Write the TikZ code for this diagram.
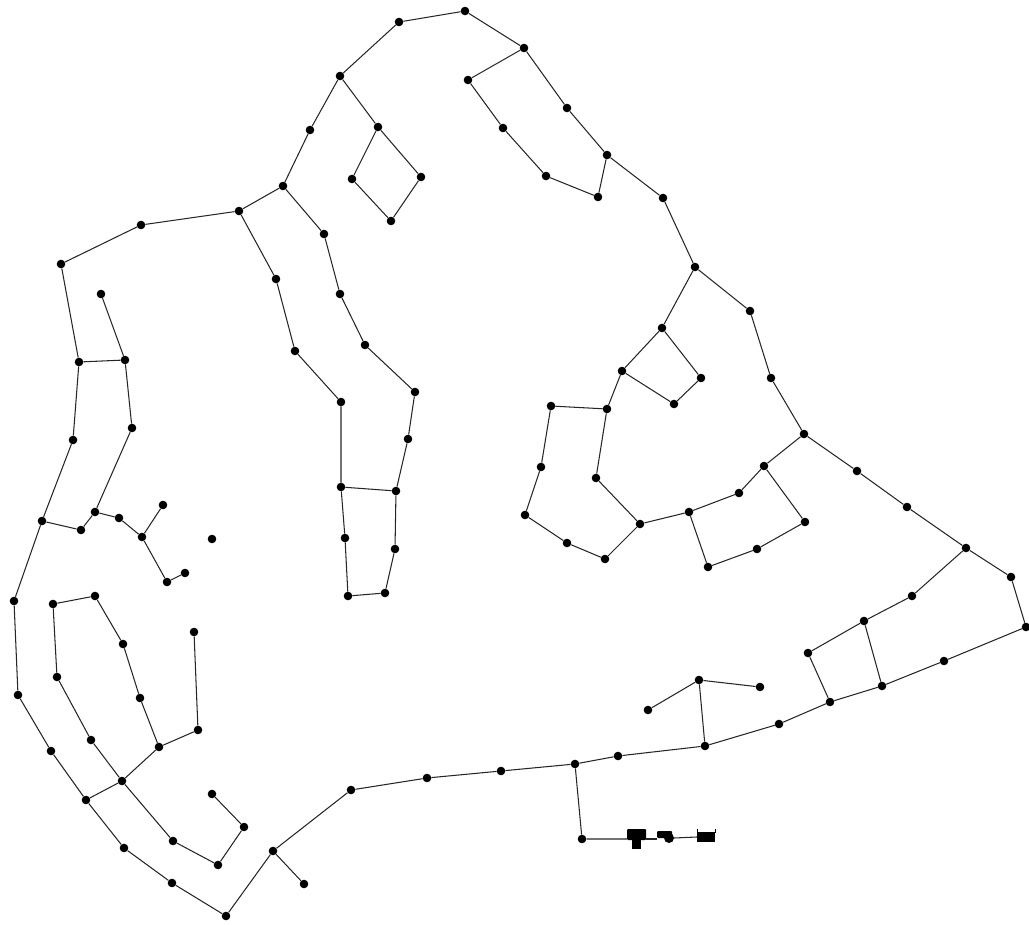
\documentclass[tikz,border=0pt]{standalone}
\tikzset{
  junc/.style={circle, fill=black, inner sep=0pt, minimum size=8.6pt},
  pipe/.style={black!85, line width=1.05pt},
  block/.style={fill=black, inner sep=0pt, rounded corners=1pt}
}
\begin{document}
\begin{tikzpicture}[x=1pt, y=-1pt]
\useasboundingbox (0,0) rectangle (1029,925);
\node[junc] (n1) at (465,11) {};
\node[junc] (n2) at (399,22) {};
\node[junc] (n3) at (340,76) {};
\node[junc] (n4) at (524,48) {};
\node[junc] (n5) at (468,80) {};
\node[junc] (n6) at (503,128) {};
\node[junc] (n7) at (546,176) {};
\node[junc] (n8) at (598,197) {};
\node[junc] (n9) at (607,155) {};
\node[junc] (n10) at (567,108) {};
\node[junc] (n11) at (663,198) {};
\node[junc] (n12) at (695,267) {};
\node[junc] (n13) at (750,311) {};
\node[junc] (n14) at (771,378) {};
\node[junc] (n15) at (804,434) {};
\node[junc] (n16) at (857,471) {};
\node[junc] (n17) at (907,507) {};
\node[junc] (n18) at (966,548) {};
\node[junc] (n19) at (1011,577) {};
\node[junc] (n20) at (1026,627) {};
\node[junc] (n21) at (944,661) {};
\node[junc] (n22) at (882,686) {};
\node[junc] (n23) at (830,702) {};
\node[junc] (n24) at (779,724) {};
\node[junc] (n25) at (705,746) {};
\node[junc] (n26) at (618,756) {};
\node[junc] (n27) at (575,764) {};
\node[junc] (n28) at (501,771) {};
\node[junc] (n29) at (427,778) {};
\node[junc] (n30) at (351,790) {};
\node[junc] (n31) at (273,851) {};
\node[junc] (n32) at (226,916) {};
\node[junc] (n33) at (172,883) {};
\node[junc] (n34) at (124,848) {};
\node[junc] (n35) at (86,800) {};
\node[junc] (n36) at (51,751) {};
\node[junc] (n37) at (18,695) {};
\node[junc] (n38) at (14,601) {};
\node[junc] (n39) at (42,521) {};
\node[junc] (n40) at (73,440) {};
\node[junc] (n41) at (79,362) {};
\node[junc] (n42) at (61,264) {};
\node[junc] (n43) at (141,225) {};
\node[junc] (n44) at (239,211) {};
\node[junc] (n45) at (283,186) {};
\node[junc] (n46) at (310,130) {};
\node[junc] (n47) at (378,127) {};
\node[junc] (n48) at (421,177) {};
\node[junc] (n49) at (391,221) {};
\node[junc] (n50) at (352,179) {};
\node[junc] (n51) at (324,234) {};
\node[junc] (n52) at (340,294) {};
\node[junc] (n53) at (365,345) {};
\node[junc] (n54) at (415,392) {};
\node[junc] (n55) at (408,439) {};
\node[junc] (n56) at (396,491) {};
\node[junc] (n57) at (395,549) {};
\node[junc] (n58) at (385,593) {};
\node[junc] (n59) at (348,596) {};
\node[junc] (n60) at (345,538) {};
\node[junc] (n61) at (341,487) {};
\node[junc] (n62) at (341,402) {};
\node[junc] (n63) at (295,351) {};
\node[junc] (n64) at (276,279) {};
\node[junc] (n65) at (125,360) {};
\node[junc] (n66) at (132,428) {};
\node[junc] (n67) at (95,512) {};
\node[junc] (n68) at (81,530) {};
\node[junc] (n69) at (101,294) {};
\node[junc] (n70) at (119,518) {};
\node[junc] (n71) at (142,537) {};
\node[junc] (n72) at (163,505) {};
\node[junc] (n73) at (167,582) {};
\node[junc] (n74) at (185,573) {};
\node[junc] (n75) at (212,539) {};
\node[junc] (n76) at (53,604) {};
\node[junc] (n77) at (95,596) {};
\node[junc] (n78) at (123,644) {};
\node[junc] (n79) at (140,698) {};
\node[junc] (n80) at (159,747) {};
\node[junc] (n81) at (198,730) {};
\node[junc] (n82) at (194,632) {};
\node[junc] (n83) at (57,677) {};
\node[junc] (n84) at (91,740) {};
\node[junc] (n85) at (122,781) {};
\node[junc] (n86) at (173,841) {};
\node[junc] (n87) at (218,865) {};
\node[junc] (n88) at (244,827) {};
\node[junc] (n89) at (212,794) {};
\node[junc] (n90) at (304,884) {};
\node[junc] (n91) at (582,839) {};
\node[junc] (n92) at (699,680) {};
\node[junc] (n93) at (648,710) {};
\node[junc] (n94) at (760,687) {};
\node[junc] (n95) at (912,596) {};
\node[junc] (n96) at (864,621) {};
\node[junc] (n97) at (808,653) {};
\node[junc] (n98) at (662,328) {};
\node[junc] (n99) at (622,371) {};
\node[junc] (n100) at (607,409) {};
\node[junc] (n101) at (596,478) {};
\node[junc] (n102) at (640,524) {};
\node[junc] (n103) at (605,559) {};
\node[junc] (n104) at (567,543) {};
\node[junc] (n105) at (525,515) {};
\node[junc] (n106) at (541,467) {};
\node[junc] (n107) at (551,406) {};
\node[junc] (n108) at (701,378) {};
\node[junc] (n109) at (674,404) {};
\node[junc] (n110) at (689,512) {};
\node[junc] (n111) at (739,493) {};
\node[junc] (n112) at (764,466) {};
\node[junc] (n113) at (805,522) {};
\node[junc] (n114) at (757,549) {};
\node[junc] (n115) at (708,567) {};
% valve, pump and tank at the end of the feed
\node[block, minimum width=19pt, minimum height=11pt] (valve) at (636.5,834.5) {};
\node[fill=black, inner sep=0pt, minimum width=9pt, minimum height=10pt] (stem) at (636.5,844) {};
\node[circle, fill=black, inner sep=0pt, minimum size=10pt] (pumpc) at (669,838) {};
\node[block, minimum width=15pt, minimum height=7pt] (pump) at (664.5,834.5) {};
\node[fill=black, inner sep=0pt, minimum width=18pt, minimum height=10pt] (tank) at (706,837) {};
\coordinate (tankl) at (697,829);
\coordinate (tankr) at (715,829);
\coordinate (tankbl) at (697,833);
\coordinate (tankbr) at (715,833);
% outer ring
\draw[pipe] (n3) -- (n2) -- (n1) -- (n4) -- (n5) -- (n6) -- (n7) -- (n8) -- (n9) -- (n10) -- (n4);
\draw[pipe] (n9) -- (n11) -- (n12) -- (n13) -- (n14) -- (n15) -- (n16) -- (n17) -- (n18) -- (n19) -- (n20) -- (n21) -- (n22) -- (n23) -- (n24) -- (n25) -- (n26) -- (n27) -- (n28) -- (n29) -- (n30) -- (n31) -- (n32) -- (n33) -- (n34) -- (n35) -- (n36) -- (n37) -- (n38) -- (n39) -- (n40) -- (n41) -- (n42) -- (n43) -- (n44) -- (n45) -- (n46) -- (n3);
% upper middle
\draw[pipe] (n3) -- (n47) -- (n48) -- (n49) -- (n50) -- (n47);
\draw[pipe] (n45) -- (n51) -- (n52) -- (n53) -- (n54) -- (n55) -- (n56) -- (n57) -- (n58) -- (n59) -- (n60) -- (n61) -- (n62) -- (n63) -- (n64) -- (n44);
\draw[pipe] (n61) -- (n56);
% left
\draw[pipe] (n41) -- (n65) -- (n66) -- (n67) -- (n68) -- (n39);
\draw[pipe] (n65) -- (n69);
\draw[pipe] (n67) -- (n70) -- (n71) -- (n72);
\draw[pipe] (n71) -- (n73) -- (n74);
% lower left
\draw[pipe] (n82) -- (n81) -- (n80) -- (n79) -- (n78) -- (n77) -- (n76) -- (n83) -- (n84) -- (n85) -- (n35);
\draw[pipe] (n80) -- (n85) -- (n86) -- (n87) -- (n88) -- (n89);
\draw[pipe] (n31) -- (n90);
% feed
\draw[pipe] (n27) -- (n91) -- (valve.west |- n91);
\draw[pipe] (valve.east |- n91) -- (pump.west |- n91);
\draw[pipe] (pumpc.east) -- (tank.west);
\draw[black, line width=1pt] (tankl) -- (tankbl);
\draw[black, line width=1pt] (tankr) -- (tankbr);
% lower right
\draw[pipe] (n25) -- (n92) -- (n93);
\draw[pipe] (n92) -- (n94);
\draw[pipe] (n18) -- (n95) -- (n96) -- (n97) -- (n23);
\draw[pipe] (n96) -- (n22);
% right middle
\draw[pipe] (n12) -- (n98) -- (n99) -- (n100) -- (n101) -- (n102) -- (n103) -- (n104) -- (n105) -- (n106) -- (n107) -- (n100);
\draw[pipe] (n98) -- (n108) -- (n109) -- (n99);
\draw[pipe] (n102) -- (n110) -- (n111) -- (n112) -- (n15);
\draw[pipe] (n112) -- (n113) -- (n114) -- (n115) -- (n110);
\end{tikzpicture}
\end{document}
